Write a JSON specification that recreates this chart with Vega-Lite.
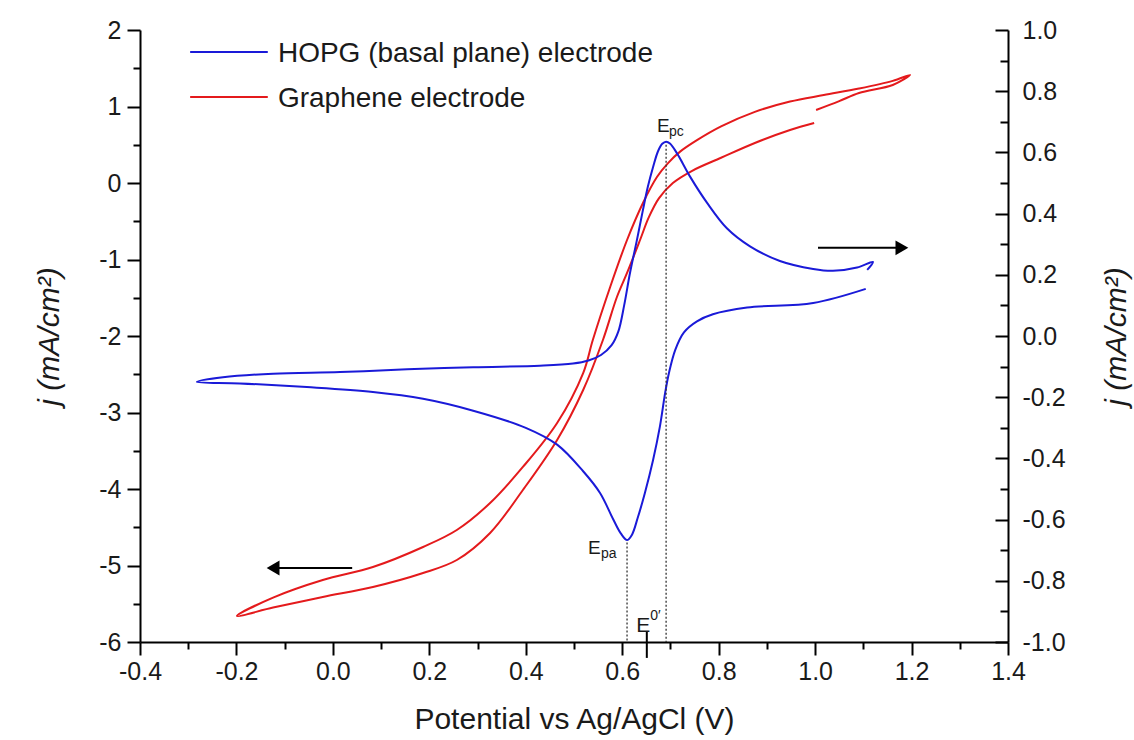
{
  "$schema": "https://vega.github.io/schema/vega-lite/v6.json",
  "width": 868,
  "height": 612,
  "autosize": {"type": "none"},
  "padding": {"left": 140, "top": 30, "right": 126, "bottom": 98},
  "background": "white",
  "config": {
    "view": {"stroke": null},
    "font": "Liberation Sans",
    "axis": {
      "grid": false,
      "domainColor": "#000000",
      "tickColor": "#000000",
      "domainWidth": 2,
      "tickWidth": 2,
      "labelColor": "#1a1a1a",
      "titleColor": "#1a1a1a",
      "labelFont": "Liberation Sans",
      "titleFont": "Liberation Sans",
      "labelFontSize": 25,
      "titleFontSize": 30,
      "titleFontWeight": "normal",
      "labelOverlap": false,
      "labelFlush": false
    }
  },
  "datasets": {
    "graphene": [
      {"i": 1, "x": 0.998, "y": 0.784},
      {"i": 2, "x": 0.948, "y": 0.693},
      {"i": 3, "x": 0.875, "y": 0.523},
      {"i": 4, "x": 0.805, "y": 0.33},
      {"i": 5, "x": 0.745, "y": 0.16},
      {"i": 6, "x": 0.705, "y": 0.0},
      {"i": 7, "x": 0.676, "y": -0.2},
      {"i": 8, "x": 0.655, "y": -0.45},
      {"i": 9, "x": 0.637, "y": -0.745},
      {"i": 10, "x": 0.61, "y": -1.176},
      {"i": 11, "x": 0.589, "y": -1.49},
      {"i": 12, "x": 0.56, "y": -2.052},
      {"i": 13, "x": 0.519, "y": -2.706},
      {"i": 14, "x": 0.465, "y": -3.359},
      {"i": 15, "x": 0.394, "y": -4.013},
      {"i": 16, "x": 0.326, "y": -4.575},
      {"i": 17, "x": 0.257, "y": -4.928},
      {"i": 18, "x": 0.187, "y": -5.098},
      {"i": 19, "x": 0.083, "y": -5.281},
      {"i": 20, "x": -0.021, "y": -5.412},
      {"i": 21, "x": -0.124, "y": -5.55},
      {"i": 22, "x": -0.199, "y": -5.66},
      {"i": 23, "x": -0.124, "y": -5.42},
      {"i": 24, "x": -0.021, "y": -5.19},
      {"i": 25, "x": 0.083, "y": -5.02},
      {"i": 26, "x": 0.187, "y": -4.758},
      {"i": 27, "x": 0.257, "y": -4.536},
      {"i": 28, "x": 0.326, "y": -4.183},
      {"i": 29, "x": 0.394, "y": -3.712},
      {"i": 30, "x": 0.465, "y": -3.137},
      {"i": 31, "x": 0.519, "y": -2.484},
      {"i": 32, "x": 0.539, "y": -2.052},
      {"i": 33, "x": 0.575, "y": -1.359},
      {"i": 34, "x": 0.61, "y": -0.745},
      {"i": 35, "x": 0.643, "y": -0.261},
      {"i": 36, "x": 0.672, "y": 0.078},
      {"i": 37, "x": 0.695, "y": 0.26},
      {"i": 38, "x": 0.72, "y": 0.41},
      {"i": 39, "x": 0.755, "y": 0.56},
      {"i": 40, "x": 0.805, "y": 0.74},
      {"i": 41, "x": 0.875, "y": 0.93},
      {"i": 42, "x": 0.948, "y": 1.065},
      {"i": 43, "x": 1.018, "y": 1.15},
      {"i": 44, "x": 1.091, "y": 1.235},
      {"i": 45, "x": 1.161, "y": 1.335},
      {"i": 46, "x": 1.197, "y": 1.412},
      {"i": 47, "x": 1.161, "y": 1.281},
      {"i": 48, "x": 1.091, "y": 1.176},
      {"i": 49, "x": 1.05, "y": 1.07},
      {"i": 50, "x": 1.002, "y": 0.954}
    ],
    "hopg": [
      {"i": 1, "x": 1.105, "y": 0.154},
      {"i": 2, "x": 0.996, "y": 0.108},
      {"i": 3, "x": 0.859, "y": 0.093},
      {"i": 4, "x": 0.788, "y": 0.071},
      {"i": 5, "x": 0.755, "y": 0.048},
      {"i": 6, "x": 0.728, "y": 0.012},
      {"i": 7, "x": 0.71, "y": -0.045},
      {"i": 8, "x": 0.697, "y": -0.12},
      {"i": 9, "x": 0.689, "y": -0.186},
      {"i": 10, "x": 0.678, "y": -0.297},
      {"i": 11, "x": 0.664, "y": -0.405},
      {"i": 12, "x": 0.647, "y": -0.513},
      {"i": 13, "x": 0.632, "y": -0.595},
      {"i": 14, "x": 0.62, "y": -0.65},
      {"i": 15, "x": 0.61, "y": -0.667},
      {"i": 16, "x": 0.597, "y": -0.645},
      {"i": 17, "x": 0.581, "y": -0.598},
      {"i": 18, "x": 0.554, "y": -0.513},
      {"i": 19, "x": 0.519, "y": -0.442},
      {"i": 20, "x": 0.465, "y": -0.355},
      {"i": 21, "x": 0.4, "y": -0.3},
      {"i": 22, "x": 0.291, "y": -0.244},
      {"i": 23, "x": 0.187, "y": -0.205},
      {"i": 24, "x": 0.083, "y": -0.183},
      {"i": 25, "x": -0.054, "y": -0.167},
      {"i": 26, "x": -0.193, "y": -0.155},
      {"i": 27, "x": -0.282, "y": -0.15},
      {"i": 28, "x": -0.228, "y": -0.135},
      {"i": 29, "x": -0.124, "y": -0.123},
      {"i": 30, "x": 0.015, "y": -0.118},
      {"i": 31, "x": 0.154, "y": -0.109},
      {"i": 32, "x": 0.291, "y": -0.102},
      {"i": 33, "x": 0.429, "y": -0.097},
      {"i": 34, "x": 0.498, "y": -0.09},
      {"i": 35, "x": 0.53, "y": -0.08},
      {"i": 36, "x": 0.556, "y": -0.062},
      {"i": 37, "x": 0.578, "y": -0.03},
      {"i": 38, "x": 0.592, "y": 0.015},
      {"i": 39, "x": 0.604, "y": 0.1},
      {"i": 40, "x": 0.616, "y": 0.205},
      {"i": 41, "x": 0.63, "y": 0.31},
      {"i": 42, "x": 0.643, "y": 0.412},
      {"i": 43, "x": 0.653, "y": 0.487},
      {"i": 44, "x": 0.664, "y": 0.552},
      {"i": 45, "x": 0.674, "y": 0.603},
      {"i": 46, "x": 0.683, "y": 0.628},
      {"i": 47, "x": 0.691, "y": 0.635},
      {"i": 48, "x": 0.699, "y": 0.629},
      {"i": 49, "x": 0.714, "y": 0.596},
      {"i": 50, "x": 0.741, "y": 0.52},
      {"i": 51, "x": 0.776, "y": 0.435},
      {"i": 52, "x": 0.817, "y": 0.352},
      {"i": 53, "x": 0.865, "y": 0.293},
      {"i": 54, "x": 0.927, "y": 0.245},
      {"i": 55, "x": 0.996, "y": 0.219},
      {"i": 56, "x": 1.037, "y": 0.213},
      {"i": 57, "x": 1.087, "y": 0.224},
      {"i": 58, "x": 1.12, "y": 0.242},
      {"i": 59, "x": 1.108, "y": 0.216}
    ]
  },
  "resolve": {"scale": {"x": "independent", "y": "independent"}},
  "layer": [
    {
      "data": {"name": "graphene"},
      "mark": {"type": "line", "color": "#e41a1c", "strokeWidth": 2, "strokeJoin": "round", "interpolate": "catmull-rom"},
      "encoding": {
        "x": {
          "field": "x", "type": "quantitative",
          "scale": {"domain": [-0.4, 1.4], "nice": false, "zero": false},
          "axis": {
            "orient": "bottom",
            "values": [-0.4, -0.2, 0, 0.2, 0.4, 0.6, 0.8, 1.0, 1.2, 1.4],
            "format": ".1f",
            "labelExpr": "replace(datum.label, '\u2212', '-')",
            "tickSize": 13,
            "labelPadding": 4,
            "title": "Potential vs Ag/AgCl (V)",
            "titlePadding": 20
          }
        },
        "y": {
          "field": "y", "type": "quantitative",
          "scale": {"domain": [-6, 2], "nice": false, "zero": false},
          "axis": {
            "orient": "left",
            "values": [-6, -5, -4, -3, -2, -1, 0, 1, 2],
            "format": "d",
            "labelExpr": "replace(datum.label, '\u2212', '-')",
            "tickSize": 13,
            "labelPadding": 6,
            "title": "j (mA/cm²)",
            "titleFontStyle": "italic",
            "titlePadding": 34
          }
        },
        "order": {"field": "i", "type": "quantitative"}
      }
    },
    {
      "data": {"name": "hopg"},
      "mark": {"type": "line", "color": "#1a1ad8", "strokeWidth": 2, "strokeJoin": "round", "interpolate": "catmull-rom"},
      "encoding": {
        "x": {"field": "x", "type": "quantitative", "scale": {"domain": [-0.4, 1.4], "nice": false, "zero": false}, "axis": null},
        "y": {
          "field": "y", "type": "quantitative",
          "scale": {"domain": [-1, 1], "nice": false, "zero": false},
          "axis": {
            "orient": "right",
            "values": [-1, -0.8, -0.6, -0.4, -0.2, 0, 0.2, 0.4, 0.6, 0.8, 1],
            "format": ".1f",
            "labelExpr": "replace(datum.label, '\u2212', '-')",
            "tickSize": -13,
            "labelPadding": 27,
            "title": "j (mA/cm²)",
            "titleFontStyle": "italic",
            "titleAngle": -90,
            "titleBaseline": "top",
            "titlePadding": 36
          }
        },
        "order": {"field": "i", "type": "quantitative"}
      }
    },
    {
      "data": {"values": [{"x": 0.04, "x2": -0.115, "y": -5.033}]},
      "mark": {"type": "rule", "color": "#000000", "strokeWidth": 2},
      "encoding": {
        "x": {
          "field": "x", "type": "quantitative",
          "scale": {"domain": [-0.4, 1.4], "nice": false, "zero": false},
          "axis": {"orient": "bottom", "values": [-0.3, -0.1, 0.1, 0.3, 0.5, 0.7, 0.9, 1.1, 1.3], "tickSize": 7, "labels": false, "domain": false, "title": null}
        },
        "x2": {"field": "x2"},
        "y": {
          "field": "y", "type": "quantitative",
          "scale": {"domain": [-6, 2], "nice": false, "zero": false},
          "axis": {"orient": "left", "values": [-5.5, -4.5, -3.5, -2.5, -1.5, -0.5, 0.5, 1.5], "tickSize": 7, "labels": false, "domain": false, "title": null}
        }
      }
    },
    {
      "data": {"values": [{"x": -0.124, "y": -5.033}]},
      "mark": {"type": "point", "shape": "triangle-left", "filled": true, "color": "#000000", "size": 220, "opacity": 1},
      "encoding": {
        "x": {"field": "x", "type": "quantitative", "scale": {"domain": [-0.4, 1.4], "nice": false, "zero": false}, "axis": null},
        "y": {"field": "y", "type": "quantitative", "scale": {"domain": [-6, 2], "nice": false, "zero": false}, "axis": null}
      }
    },
    {
      "data": {"values": [{"x": 1.006, "x2": 1.175, "y": 0.288}]},
      "mark": {"type": "rule", "color": "#000000", "strokeWidth": 2},
      "encoding": {
        "x": {"field": "x", "type": "quantitative", "scale": {"domain": [-0.4, 1.4], "nice": false, "zero": false}, "axis": null},
        "x2": {"field": "x2"},
        "y": {
          "field": "y", "type": "quantitative",
          "scale": {"domain": [-1, 1], "nice": false, "zero": false},
          "axis": {"orient": "right", "values": [-0.9, -0.7, -0.5, -0.3, -0.1, 0.1, 0.3, 0.5, 0.7, 0.9], "tickSize": -8, "labels": false, "domain": false, "title": null}
        }
      }
    },
    {
      "data": {"values": [{"x": 1.18, "y": 0.288}]},
      "mark": {"type": "point", "shape": "triangle-right", "filled": true, "color": "#000000", "size": 220, "opacity": 1},
      "encoding": {
        "x": {"field": "x", "type": "quantitative", "scale": {"domain": [-0.4, 1.4], "nice": false, "zero": false}, "axis": null},
        "y": {"field": "y", "type": "quantitative", "scale": {"domain": [-1, 1], "nice": false, "zero": false}, "axis": null}
      }
    },
    {
      "data": {"values": [{"x": 0.61, "y": -0.675, "y2": -1}, {"x": 0.691, "y": 0.625, "y2": -1}]},
      "mark": {"type": "rule", "color": "#333333", "strokeWidth": 1.3, "strokeDash": [2, 2]},
      "encoding": {
        "x": {"field": "x", "type": "quantitative", "scale": {"domain": [-0.4, 1.4], "nice": false, "zero": false}, "axis": null},
        "y": {"field": "y", "type": "quantitative", "scale": {"domain": [-1, 1], "nice": false, "zero": false}, "axis": null},
        "y2": {"field": "y2"}
      }
    },
    {
      "data": {"values": [{"x": 0.651, "y": -0.967, "y2": -1.052}]},
      "mark": {"type": "rule", "color": "#000000", "strokeWidth": 2},
      "encoding": {
        "x": {"field": "x", "type": "quantitative", "scale": {"domain": [-0.4, 1.4], "nice": false, "zero": false}, "axis": null},
        "y": {"field": "y", "type": "quantitative", "scale": {"domain": [-1, 1], "nice": false, "zero": false}, "axis": null},
        "y2": {"field": "y2"}
      }
    },
    {
      "data": {"values": [{"x": 0.672, "y": 0.667, "t": "E"}, {"x": 0.529, "y": -0.712, "t": "E"}]},
      "mark": {"type": "text", "fontSize": 19, "align": "left", "baseline": "alphabetic", "color": "#1a1a1a"},
      "encoding": {
        "x": {"field": "x", "type": "quantitative", "scale": {"domain": [-0.4, 1.4], "nice": false, "zero": false}, "axis": null},
        "y": {"field": "y", "type": "quantitative", "scale": {"domain": [-1, 1], "nice": false, "zero": false}, "axis": null},
        "text": {"field": "t"}
      }
    },
    {
      "data": {"values": [{"x": 0.697, "y": 0.655, "t": "pc"}, {"x": 0.556, "y": -0.724, "t": "pa"}]},
      "mark": {"type": "text", "fontSize": 14, "align": "left", "baseline": "alphabetic", "color": "#1a1a1a"},
      "encoding": {
        "x": {"field": "x", "type": "quantitative", "scale": {"domain": [-0.4, 1.4], "nice": false, "zero": false}, "axis": null},
        "y": {"field": "y", "type": "quantitative", "scale": {"domain": [-1, 1], "nice": false, "zero": false}, "axis": null},
        "text": {"field": "t"}
      }
    },
    {
      "data": {"values": [{"x": 0.629, "y": -0.967, "t": "E"}]},
      "mark": {"type": "text", "fontSize": 21, "align": "left", "baseline": "alphabetic", "color": "#1a1a1a"},
      "encoding": {
        "x": {"field": "x", "type": "quantitative", "scale": {"domain": [-0.4, 1.4], "nice": false, "zero": false}, "axis": null},
        "y": {"field": "y", "type": "quantitative", "scale": {"domain": [-1, 1], "nice": false, "zero": false}, "axis": null},
        "text": {"field": "t"}
      }
    },
    {
      "data": {"values": [{"x": 0.658, "y": -0.928, "t": "0′"}]},
      "mark": {"type": "text", "fontSize": 14, "align": "left", "baseline": "alphabetic", "color": "#1a1a1a"},
      "encoding": {
        "x": {"field": "x", "type": "quantitative", "scale": {"domain": [-0.4, 1.4], "nice": false, "zero": false}, "axis": null},
        "y": {"field": "y", "type": "quantitative", "scale": {"domain": [-1, 1], "nice": false, "zero": false}, "axis": null},
        "text": {"field": "t"}
      }
    },
    {
      "data": {"values": [
        {"s": "HOPG (basal plane) electrode", "x": -0.296, "x2": -0.135, "y": 1.712},
        {"s": "Graphene electrode", "x": -0.296, "x2": -0.135, "y": 1.124}
      ]},
      "mark": {"type": "rule", "strokeWidth": 2},
      "encoding": {
        "x": {"field": "x", "type": "quantitative", "scale": {"domain": [-0.4, 1.4], "nice": false, "zero": false}, "axis": null},
        "x2": {"field": "x2"},
        "y": {"field": "y", "type": "quantitative", "scale": {"domain": [-6, 2], "nice": false, "zero": false}, "axis": null},
        "color": {"field": "s", "type": "nominal", "scale": {"domain": ["HOPG (basal plane) electrode", "Graphene electrode"], "range": ["#1a1ad8", "#e41a1c"]}, "legend": null}
      }
    },
    {
      "data": {"values": [
        {"s": "HOPG (basal plane) electrode", "x": -0.114, "y": 1.68},
        {"s": "Graphene electrode", "x": -0.114, "y": 1.095}
      ]},
      "mark": {"type": "text", "fontSize": 28, "align": "left", "baseline": "middle", "color": "#1a1a1a"},
      "encoding": {
        "x": {"field": "x", "type": "quantitative", "scale": {"domain": [-0.4, 1.4], "nice": false, "zero": false}, "axis": null},
        "y": {"field": "y", "type": "quantitative", "scale": {"domain": [-6, 2], "nice": false, "zero": false}, "axis": null},
        "text": {"field": "s"}
      }
    }
  ]
}
